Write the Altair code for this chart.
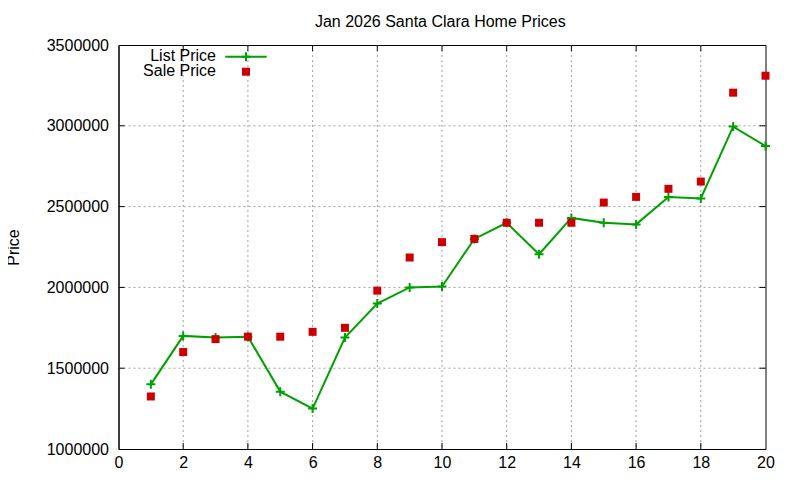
import altair as alt
import pandas as pd

# Jan 2026 Santa Clara: monthly list vs sale prices
months = list(range(1, 21))
list_price = [1400000, 1700000, 1690000, 1695000, 1355000, 1250000, 1690000, 1900000, 2000000, 2005000,
              2300000, 2400000, 2205000, 2430000, 2400000, 2390000, 2560000, 2550000, 2995000, 2875000]
sale_price = [1325000, 1600000, 1680000, 1695000, 1695000, 1725000, 1750000, 1980000, 2185000, 2280000,
              2300000, 2400000, 2400000, 2400000, 2525000, 2560000, 2610000, 2655000, 3205000, 3310000]
x_ticks = list(range(0, 21, 2))
y_ticks = list(range(1000000, 3500001, 500000))
series_names = ["List Price", "Sale Price"]
title_text = "Jan 2026 Santa Clara Home Prices"

W, H = 647, 404
TICK = 6
GREEN = "#00a000"
RED = "#cc0000"
GRID = "#a0a0a0"
FONT = "Liberation Sans"
CROSS = "M-1,0L1,0M0,-1L0,1"

df = pd.DataFrame({"month": months, "list": list_price, "sale": sale_price})
gx_df = pd.DataFrame({"gx": x_ticks[1:-1]})
gy_df = pd.DataFrame({"gy": y_ticks[1:-1]})

x_scale = alt.Scale(domain=[0, 20], nice=False)
y_scale = alt.Scale(domain=[1000000, 3500000], nice=False)
x_enc = alt.X("month:Q", scale=x_scale,
              axis=alt.Axis(values=x_ticks, title=None, labelPadding=5))
y_axis = alt.Axis(values=y_ticks, format="d", title="Price", labelPadding=10,
                  titleAngle=270, titleX=-100, titleY=202, titleBaseline="alphabetic",
                  titleAlign="center", titleFontWeight="normal", titleFont=FONT,
                  titleFontSize=16, titleColor="black")

# dotted grid, inner lines only so the black frame stays solid
vgrid = alt.Chart(gx_df).mark_rule(color=GRID, strokeDash=[2, 3], strokeWidth=1).encode(
    x=alt.X("gx:Q", scale=x_scale))
hgrid = alt.Chart(gy_df).mark_rule(color=GRID, strokeDash=[2, 3], strokeWidth=1).encode(
    y=alt.Y("gy:Q", scale=y_scale))

# gnuplot style inward ticks on all four sides
tick_x = alt.Chart(gx_df).mark_rule(color="black", strokeWidth=1)
tick_y = alt.Chart(gy_df).mark_rule(color="black", strokeWidth=1)
ticks_bottom = tick_x.encode(x="gx:Q", y=alt.value(H), y2=alt.value(H - TICK))
ticks_top = tick_x.encode(x="gx:Q", y=alt.value(0), y2=alt.value(TICK))
ticks_left = tick_y.encode(y="gy:Q", x=alt.value(0), x2=alt.value(TICK))
ticks_right = tick_y.encode(y="gy:Q", x=alt.value(W - TICK), x2=alt.value(W))

base = alt.Chart(df)

line = base.mark_line(color=GREEN, strokeWidth=2).encode(
    x_enc, alt.Y("list:Q", scale=y_scale, axis=y_axis)
)
crosses = base.mark_point(shape=CROSS, size=81, strokeWidth=2, color=GREEN,
                          filled=False, opacity=1).encode(
    x="month:Q", y="list:Q"
)
squares = base.mark_square(size=64, color=RED, opacity=1).encode(
    x="month:Q", y="sale:Q"
)

# title and legend drawn by hand (label left, sample right, like gnuplot)
title = alt.Chart(pd.DataFrame({"t": [title_text]})).mark_text(
    align="center", baseline="alphabetic", font=FONT, fontSize=16, color="black"
).encode(text="t:N", x=alt.value(321.8), y=alt.value(-18.3))

leg_list = alt.Chart(pd.DataFrame({"label": [series_names[0]]}))
leg_sale = alt.Chart(pd.DataFrame({"label": [series_names[1]]}))
leg_text1 = leg_list.mark_text(align="right", baseline="alphabetic", font=FONT, fontSize=16,
                               color="black").encode(text="label:N", x=alt.value(97.5), y=alt.value(16))
leg_text2 = leg_sale.mark_text(align="right", baseline="alphabetic", font=FONT, fontSize=16,
                               color="black").encode(text="label:N", x=alt.value(97.5), y=alt.value(31))
leg_line = leg_list.mark_rule(color=GREEN, strokeWidth=2).encode(
    x=alt.value(106.8), x2=alt.value(148.2), y=alt.value(11.7))
leg_cross = leg_list.mark_point(shape=CROSS, size=81, strokeWidth=2, color=GREEN,
                                filled=False, opacity=1).encode(x=alt.value(127.5), y=alt.value(11.7))
leg_square = leg_sale.mark_square(size=64, color=RED, opacity=1).encode(
    x=alt.value(127.5), y=alt.value(26.7))

chart = alt.layer(
    vgrid, hgrid, ticks_bottom, ticks_top, ticks_left, ticks_right,
    line, crosses, squares, title,
    leg_text1, leg_line, leg_cross, leg_text2, leg_square
).properties(
    width=W,
    height=H,
    padding={"left": 110.5, "top": 37, "right": 20, "bottom": 25},
    autosize=alt.AutoSizeParams(type="none"),
).configure_view(
    stroke="black", strokeWidth=1
).configure_axis(
    labelFont=FONT, labelFontSize=16, labelColor="black", labelFlush=False,
    domainColor="black", domainWidth=1,
    ticks=False, tickSize=0, grid=False,
)

chart.save("out.html", embed_options={"renderer": "svg", "actions": False})
